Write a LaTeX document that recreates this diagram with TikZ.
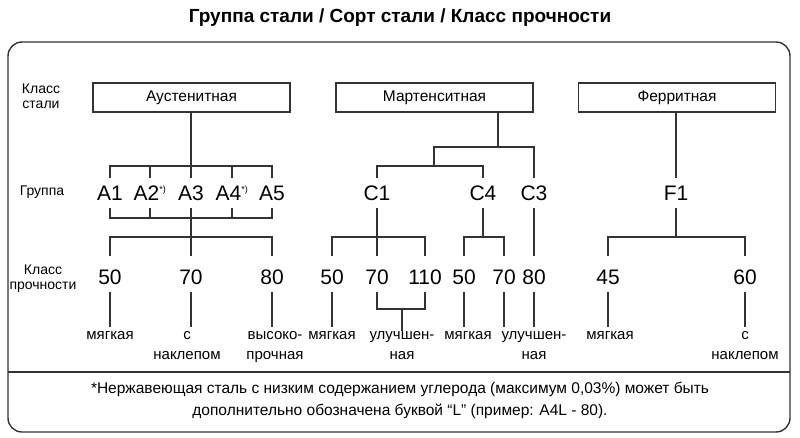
\documentclass[tikz,border=0pt]{standalone}
\usepackage{fontspec}
\setmainfont{Liberation Sans}
\begin{document}
\begin{tikzpicture}[x=1pt,y=-1pt,line width=1.1pt,draw=black!80,
  cls/.style={draw,line width=1.3pt,minimum width=197pt,minimum height=29pt,inner sep=0pt,font=\fontsize{15.5}{17}\selectfont},
  grp/.style={font=\fontsize{21}{23}\selectfont,inner sep=1pt},
  num/.style={font=\fontsize{21}{23}\selectfont,inner sep=1pt},
  lab/.style={font=\fontsize{15}{20}\selectfont,align=center,anchor=north,inner sep=0pt},
  row/.style={font=\fontsize{14}{15}\selectfont,align=center}]
\useasboundingbox (0,0) rectangle (800,437);
\node[font=\bfseries\fontsize{19}{21}\selectfont] (title) at (400,18) {Группа стали / Сорт стали / Класс прочности};
\draw[line width=1.4pt,rounded corners=14pt] (8,42) rectangle (790,432);
\draw[line width=1.4pt] (8,372) -- (790,372);
\node[font=\fontsize{15.5}{22}\selectfont,align=center] (foot) at (400,400) {*Нержавеющая сталь с низким содержанием углерода (максимум 0,03\%) может быть\\дополнительно обозначена буквой “L” (пример: A4L - 80).};
% row labels
\node[row] (r1) at (41,96) {Класс\\стали};
\node[row] (r2) at (42,192) {Группа};
\node[row] (r3) at (43,279) {Класс\\прочности};
% class boxes
\node[cls] (aus) at (191.5,97.5) {Аустенитная};
\node[cls] (mar) at (434.5,97.5) {Мартенситная};
\node[cls] (fer) at (677,97.5) {Ферритная};
% groups
\node[grp] (A1) at (110,193) {A1};
\node[grp] (A2) at (150,193) {A2\textsuperscript{\fontsize{9}{9}\selectfont*)}};
\node[grp] (A3) at (191,193) {A3};
\node[grp] (A4) at (232,193) {A4\textsuperscript{\fontsize{9}{9}\selectfont*)}};
\node[grp] (A5) at (272,193) {A5};
\node[grp] (C1) at (377,193) {C1};
\node[grp] (C4) at (483,193) {C4};
\node[grp] (C3) at (534,193) {C3};
\node[grp] (F1) at (676,193) {F1};
% strength
\node[num] (a50) at (110,277) {50};
\node[num] (a70) at (191,277) {70};
\node[num] (a80) at (272,277) {80};
\node[num] (c50) at (332,277) {50};
\node[num] (c70) at (377,277) {70};
\node[num] (c110) at (425,277) {110};
\node[num] (d50) at (464,277) {50};
\node[num] (d70) at (504,277) {70};
\node[num] (e80) at (534,277) {80};
\node[num] (f45) at (608,277) {45};
\node[num] (f60) at (745,277) {60};
% bottom labels
\node[lab] (la50) at (110,331) {мягкая};
\node[lab] (la70) at (187,331) {с\\наклепом};
\node[lab] (la80) at (275,331) {высоко-\\прочная};
\node[lab] (lc50) at (332,331) {мягкая};
\node[lab] (lc70) at (402,331) {улучшен-\\ная};
\node[lab] (ld50) at (468,331) {мягкая};
\node[lab] (le80) at (534,331) {улучшен-\\ная};
\node[lab] (lf45) at (610,331) {мягкая};
\node[lab] (lf60) at (745,331) {с\\наклепом};
% Austenitic
\draw (aus.south -| A3) -- (A3 |- 0,178);
\draw (A1 |- 0,178) -- (A1 |- 0,166) -- (A5 |- 0,166) -- (A5 |- 0,178);
\foreach \n in {A2,A4} \draw (\n |- 0,166) -- (\n |- 0,178);
\draw (A1 |- 0,208) -- (A1 |- 0,218) -- (A5 |- 0,218) -- (A5 |- 0,208);
\foreach \n in {A2,A4} \draw (\n |- 0,208) -- (\n |- 0,218);
\draw (A3 |- 0,208) -- (A3 |- 0,256);
\draw (a50 |- 0,256) -- (a50 |- 0,237) -- (a80 |- 0,237) -- (a80 |- 0,256);
% Martensitic
\draw (498,112) -- (498,147);
\draw (434,166) -- (434,147) -- (C3 |- 0,147) -- (C3 |- 0,178);
\draw (C1 |- 0,178) -- (C1 |- 0,166) -- (C4 |- 0,166) -- (C4 |- 0,178);
\draw (C1 |- 0,208) -- (c70 |- 0,256);
\draw (c50 |- 0,256) -- (c50 |- 0,237) -- (c110 |- 0,237) -- (c110 |- 0,256);
\draw (C4 |- 0,208) -- (C4 |- 0,237);
\draw (d50 |- 0,256) -- (d50 |- 0,237) -- (d70 |- 0,237) -- (d70 |- 0,256);
\draw (C3 |- 0,208) -- (e80 |- 0,256);
% Ferritic
\draw (fer.south -| F1) -- (F1 |- 0,178);
\draw (F1 |- 0,208) -- (F1 |- 0,237);
\draw (f45 |- 0,256) -- (f45 |- 0,237) -- (f60 |- 0,237) -- (f60 |- 0,256);
% to labels
\foreach \n in {a50,a70,a80,c50,d50,d70,e80,f45,f60} \draw (\n |- 0,292) -- (\n |- 0,327);
\draw (c70 |- 0,292) -- (c70 |- 0,309) -- (c110 |- 0,309) -- (c110 |- 0,292);
\draw (lc70 |- 0,309) -- (lc70.north);
\end{tikzpicture}
\end{document}
